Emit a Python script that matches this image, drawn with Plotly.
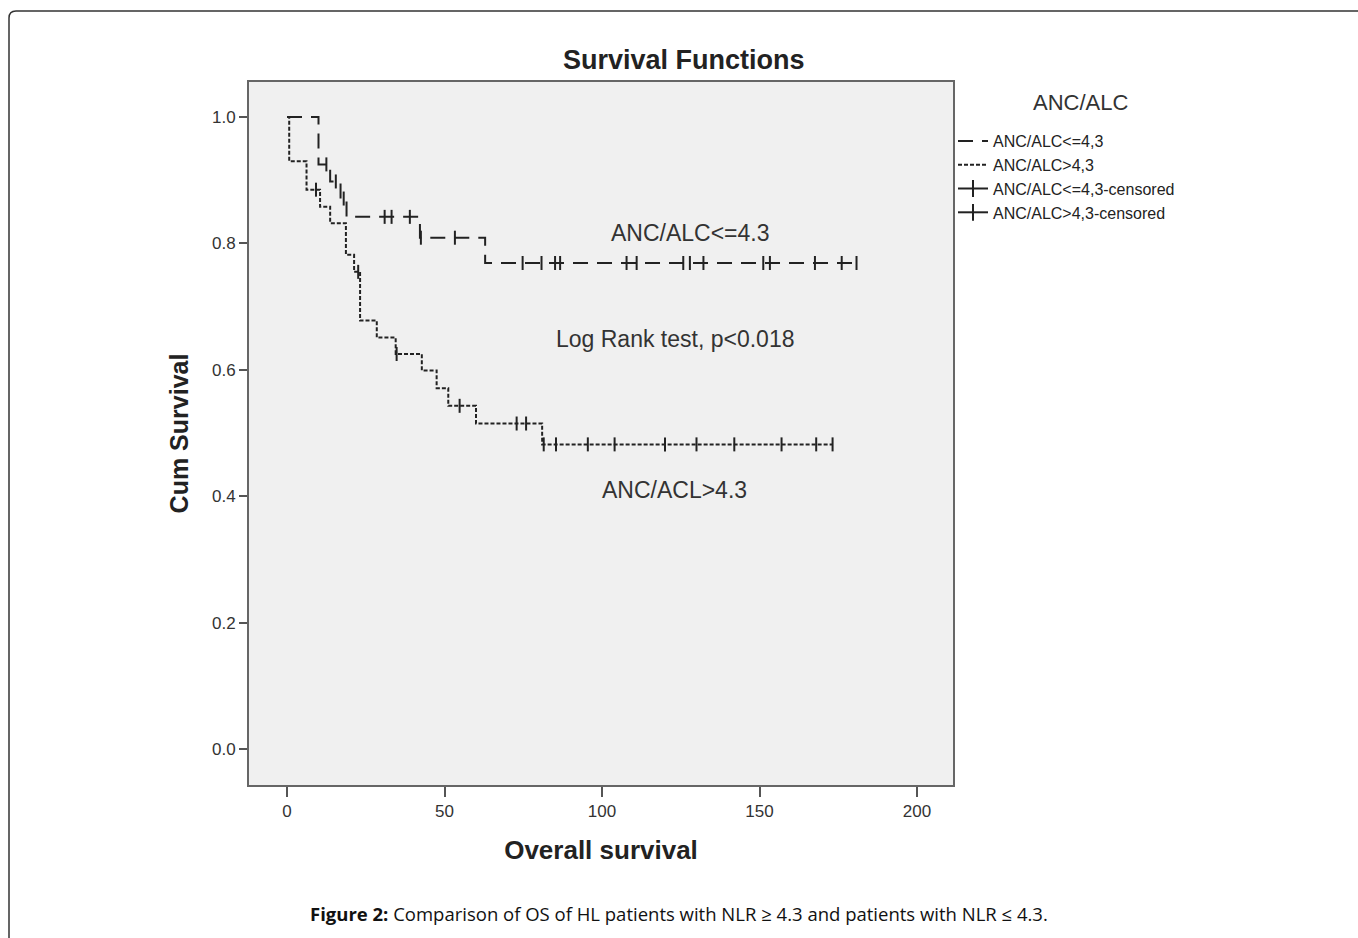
import plotly.graph_objects as go

# ---------------- data ----------------
# Kaplan-Meier step curve, group ANC/ALC <= 4.3
low_t = [0, 10, 13.7, 17, 18.9, 42.2, 62.9, 181]
low_s = [1.0, 0.925, 0.898, 0.871, 0.842, 0.809, 0.769, 0.769]
low_cens_t = [12.5, 15.5, 18.0, 31, 33.2, 39, 42.5, 53.3, 74.8, 80.8, 85.1, 86.7,
              107.8, 111, 125.8, 127.9, 132.2, 151.2, 153.3, 167.6, 176.1, 180.8]
low_cens_s = [0.925, 0.898, 0.871, 0.842, 0.842, 0.842, 0.809, 0.809, 0.769, 0.769, 0.769, 0.769,
              0.769, 0.769, 0.769, 0.769, 0.769, 0.769, 0.769, 0.769, 0.769, 0.769]

# Kaplan-Meier step curve, group ANC/ALC > 4.3
high_t = [0, 0.7, 6.2, 10.5, 13.7, 18.7, 21.3, 23.2, 28.5, 34.5, 42.8, 47.5, 51.2, 60, 81, 173.2]
high_s = [1.0, 0.930, 0.885, 0.858, 0.832, 0.782, 0.755, 0.678, 0.651, 0.625, 0.599, 0.571,
          0.543, 0.515, 0.482, 0.482]
high_cens_t = [9.2, 22.6, 34.8, 54.8, 72.9, 75.9, 81.5, 85.4, 95.5, 104, 120, 130, 142, 157, 168, 173.2]
high_cens_s = [0.885, 0.755, 0.625, 0.543, 0.515, 0.515, 0.482, 0.482, 0.482, 0.482, 0.482, 0.482,
               0.482, 0.482, 0.482, 0.482]

x_ticks = [0, 50, 100, 150, 200]
y_ticks = [0.0, 0.2, 0.4, 0.6, 0.8, 1.0]
y_tick_text = ["0.0", "0.2", "0.4", "0.6", "0.8", "1.0"]

legend_title = "ANC/ALC"
legend_names = ["ANC/ALC<=4,3", "ANC/ALC>4,3", "ANC/ALC<=4,3-censored", "ANC/ALC>4,3-censored"]

# ---------------- figure ----------------
W, H = 1358, 938
L, R, T, B = 249, 953, 82, 785  # plot area in pixels
INK = "#222222"

fig = go.Figure()

fig.add_trace(go.Scatter(x=low_t, y=low_s, mode="lines", line_shape="hv",
                         line=dict(color=INK, width=2, dash="15px,9px"),
                         name=legend_names[0]))
fig.add_trace(go.Scatter(x=high_t, y=high_s, mode="lines", line_shape="hv",
                         line=dict(color=INK, width=2, dash="4px,2px"),
                         name=legend_names[1]))
fig.add_trace(go.Scatter(x=low_cens_t, y=low_cens_s, mode="markers",
                         marker=dict(symbol="line-ns", size=10, line=dict(color=INK, width=2)),
                         showlegend=False))
fig.add_trace(go.Scatter(x=high_cens_t, y=high_cens_s, mode="markers",
                         marker=dict(symbol="line-ns", size=10, line=dict(color=INK, width=2)),
                         showlegend=False))
# legend entries for censored marks (line with a cross tick)
for nm in legend_names[2:]:
    fig.add_trace(go.Scatter(x=[None], y=[None], mode="lines+markers",
                             line=dict(color=INK, width=2),
                             marker=dict(symbol="line-ns", size=12, line=dict(color=INK, width=2)),
                             name=nm))

xr = [(L - 287) / 3.15, (R - 287) / 3.15]
yr = [(749 - B) / 632.0, (749 - T) / 632.0]

FONT = "Liberation Sans, Arial, sans-serif"

def px_x(p):
    return (p - L) / (R - L)

def px_y(p):
    return (B - p) / (B - T)

fig.update_layout(
    width=W, height=H,
    margin=dict(l=L, r=W - R, t=T, b=H - B, pad=0),
    paper_bgcolor="white",
    plot_bgcolor="#f0f0f0",
    font=dict(family=FONT, color="#333333"),
    showlegend=True,
    legend=dict(x=1.0, xanchor="left", y=px_y(124), yanchor="top",
                bgcolor="rgba(0,0,0,0)", font=dict(size=16, color="#222222"),
                itemwidth=30, tracegroupgap=0),
    xaxis=dict(range=xr, tickvals=x_ticks, ticks="outside", ticklen=10, tickwidth=2,
               tickcolor="#555555", showgrid=False, zeroline=False,
               showline=True, linecolor="#666666", linewidth=2, mirror=True,
               tickfont=dict(size=17, color="#333333"),
               title=dict(text="<b>Overall survival</b>", font=dict(size=26, color="#222222"), standoff=20)),
    yaxis=dict(range=yr, tickvals=y_ticks, ticktext=y_tick_text, ticks="outside", ticklen=8,
               tickwidth=2, tickcolor="#555555", showgrid=False, zeroline=False,
               showline=True, linecolor="#666666", linewidth=2, mirror=True,
               tickfont=dict(size=17, color="#333333"),
               title=dict(text="<b>Cum Survival</b>", font=dict(size=25, color="#222222"), standoff=16)),
)

annotations = [
    dict(text="<b>Survival Functions</b>", x=px_x(684), y=px_y(60), font=dict(size=27, color="#222222")),
    dict(text=legend_title, x=px_x(1080), y=px_y(103), font=dict(size=22, color="#333333")),
    dict(text="ANC/ALC<=4.3", x=px_x(690), y=px_y(233), font=dict(size=23, color="#333333")),
    dict(text="Log Rank test, p<0.018", x=px_x(675), y=px_y(339), font=dict(size=23, color="#333333")),
    dict(text="ANC/ACL>4.3", x=px_x(674), y=px_y(490), font=dict(size=23, color="#333333")),
    dict(text="<b>Figure 2:</b> Comparison of OS of HL patients with NLR \u2265 4.3 and patients with NLR \u2264 4.3.",
         x=px_x(679), y=px_y(913), font=dict(size=18.5, color="#111111", family="Open Sans, sans-serif")),
]
for a in annotations:
    fig.add_annotation(xref="paper", yref="paper", showarrow=False, xanchor="center", yanchor="middle", **a)

# outer page frame with rounded top-left corner
r = 7
path = (f"M {px_x(9)} {px_y(960)} L {px_x(9)} {px_y(11 + r)} "
        f"Q {px_x(9)} {px_y(11)} {px_x(9 + r)} {px_y(11)} L {px_x(1370)} {px_y(11)}")
fig.add_shape(type="path", xref="paper", yref="paper", path=path,
              line=dict(color="#333333", width=1.5))

fig.write_html("out.html")
